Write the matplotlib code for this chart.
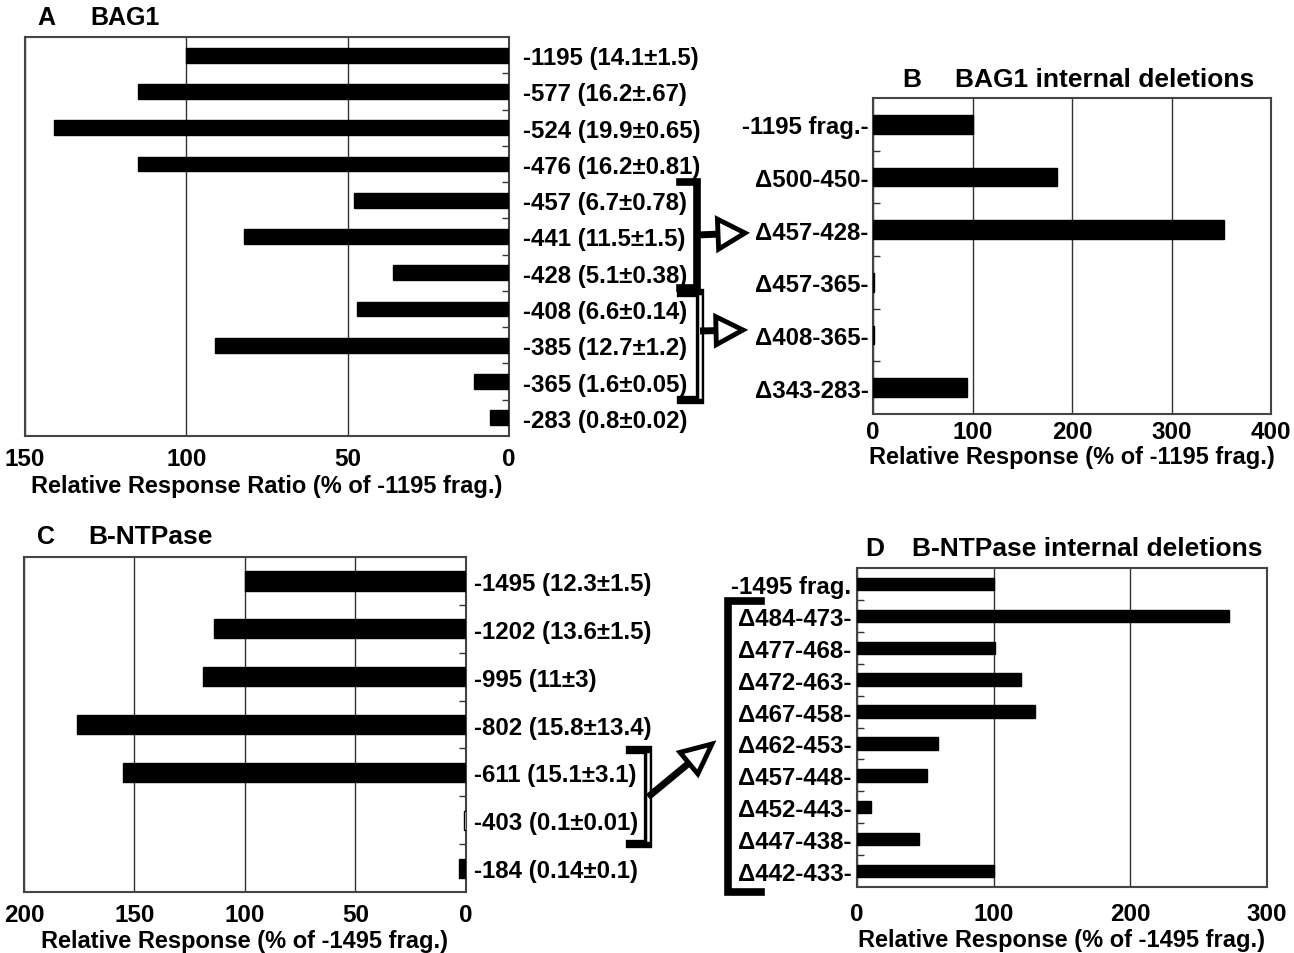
import matplotlib
matplotlib.use("Agg")
import matplotlib.pyplot as plt
from matplotlib.lines import Line2D
from matplotlib.patches import Polygon
import numpy as np
from math import hypot

plt.rcParams['font.family'] = ['Liberation Sans', 'DejaVu Sans']
plt.rcParams['font.weight'] = 'bold'
plt.rcParams['axes.labelweight'] = 'bold'

W, H = 1294, 954

bag1_labels = ["-1195 (14.1±1.5)", "-577 (16.2±.67)", "-524 (19.9±0.65)", "-476 (16.2±0.81)",
               "-457 (6.7±0.78)", "-441 (11.5±1.5)", "-428 (5.1±0.38)", "-408 (6.6±0.14)",
               "-385 (12.7±1.2)", "-365 (1.6±0.05)", "-283 (0.8±0.02)"]
bag1_values = [100, 115, 141, 115, 48, 82, 36, 47, 91, 11, 6]
bag1_ticks = [150, 100, 50, 0]

bag1_del_labels = ["-1195 frag.-", "Δ500-450-", "Δ457-428-", "Δ457-365-", "Δ408-365-", "Δ343-283-"]
bag1_del_values = [100, 185, 353, 1.5, 1.5, 94]
bag1_del_ticks = [0, 100, 200, 300, 400]

ntp_labels = ["-1495 (12.3±1.5)", "-1202 (13.6±1.5)", "-995 (11±3)", "-802 (15.8±13.4)",
              "-611 (15.1±3.1)", "-403 (0.1±0.01)", "-184 (0.14±0.1)"]
ntp_values = [100, 114, 119, 176, 155, 0.8, 3]
ntp_ticks = [200, 150, 100, 50, 0]

ntp_del_labels = ["-1495 frag.", "Δ484-473-", "Δ477-468-", "Δ472-463-", "Δ467-458-",
                  "Δ462-453-", "Δ457-448-", "Δ452-443-", "Δ447-438-", "Δ442-433-"]
ntp_del_values = [100, 272, 101, 120, 130, 59, 51, 10, 45, 100]
ntp_del_ticks = [0, 100, 200, 300]

fig = plt.figure(figsize=(W / 100, H / 100), dpi=100, facecolor='white')


def px_axes(left, top, right, bottom):
    return fig.add_axes([left / W, 1 - bottom / H, (right - left) / W, (bottom - top) / H])


def bar_panel(ax, labels, values, ticks, bar_h, side, xlabel, ypad, xpad, lpad):
    n = len(values)
    y = np.arange(n)
    ax.barh(y, values, height=bar_h, color='black', edgecolor='black', linewidth=1, zorder=3)
    ax.set_ylim(n - 0.5, -0.5)
    if side == 'right':
        ax.set_xlim(max(ticks), 0)
        ax.yaxis.tick_right()
    else:
        ax.set_xlim(0, max(ticks))
    ax.set_xticks(ticks)
    ax.set_xticklabels([str(t) for t in ticks])
    ax.set_yticks(y)
    ax.set_yticklabels(labels)
    ax.set_yticks(np.arange(n - 1) + 0.5, minor=True)
    ax.tick_params(axis='x', length=0, labelsize=17.5, pad=xpad)
    ax.tick_params(axis='y', which='major', length=0, labelsize=17.3, pad=ypad)
    ax.tick_params(axis='y', which='minor', direction='in', length=5, width=1, color='#333333')
    ax.grid(axis='x', color='#333333', linewidth=1, zorder=1)
    for s in ax.spines.values():
        s.set_color('#444444')
        s.set_linewidth(1.5)
    ax.set_xlabel(xlabel, fontsize=17, labelpad=lpad)


axA = px_axes(25, 38, 509, 437)
bar_panel(axA, bag1_labels, bag1_values, bag1_ticks, 0.41, 'right',
          "Relative Response Ratio (% of -1195 frag.)", 10, 8, 3)

axB = px_axes(873, 99, 1271, 415)
bar_panel(axB, bag1_del_labels, bag1_del_values, bag1_del_ticks, 0.36, 'left',
          "Relative Response (% of -1195 frag.)", 3, 4, 2)

axC = px_axes(24, 558, 466, 893)
bar_panel(axC, ntp_labels, ntp_values, ntp_ticks, 0.4, 'right',
          "Relative Response (% of -1495 frag.)", 6, 8, 2)
axC.patches[5].set_facecolor('white')

axD = px_axes(857, 569, 1267, 888)
bar_panel(axD, ntp_del_labels, ntp_del_values, ntp_del_ticks, 0.39, 'left',
          "Relative Response (% of -1495 frag.)", 4, 11, 2)

# panel titles
def ftext(x, y, s, size):
    fig.text(x / W, 1 - y / H, s, fontsize=size, ha='left', va='center')

ftext(37, 18, "A", 18)
ftext(90, 18, "BAG1", 18)
ftext(902, 80, "B", 19)
ftext(955, 80, "BAG1 internal deletions", 19)
ftext(37, 537, "C", 18)
ftext(88, 537, "B-NTPase", 19)
ftext(865, 549, "D", 19)
ftext(912, 549, "B-NTPase internal deletions", 19)


def fig_line(xs, ys, **kw):
    fig.add_artist(Line2D([x / W for x in xs], [1 - y / H for y in ys],
                          transform=fig.transFigure, **kw))


def open_arrow(x0, y0, x1, y1, head_len, head_w):
    L = hypot(x1 - x0, y1 - y0)
    ux, uy = (x1 - x0) / L, (y1 - y0) / L
    px, py = -uy, ux
    bx, by = x1 - ux * head_len, y1 - uy * head_len
    fig_line([x0, bx], [y0, by], color='black', linewidth=5, solid_capstyle='butt')
    pts = [(bx + px * head_w, by + py * head_w), (x1, y1), (bx - px * head_w, by - py * head_w)]
    fig.add_artist(Polygon([(x / W, 1 - y / H) for x, y in pts], closed=True,
                           facecolor='white', edgecolor='black', linewidth=3.5,
                           joinstyle='miter', transform=fig.transFigure))


# brackets and arrows linking panels
fig_line([680, 697, 697, 680], [183, 183, 289, 289], color='black', linewidth=5.5,
         solid_joinstyle='miter')
fig_line([681, 700, 700, 681], [294, 294, 401, 401], color='black', linewidth=6,
         solid_joinstyle='miter')
fig_line([700, 700], [297, 398], color='white', linewidth=1.8)
open_arrow(697, 236, 745, 234, 27, 15)
open_arrow(700, 332, 743, 331, 27, 14)

fig_line([630, 648, 648, 630], [751, 751, 845, 845], color='black', linewidth=6,
         solid_joinstyle='miter')
fig_line([648, 648], [755, 841], color='white', linewidth=1.8)
open_arrow(648, 798, 712, 745, 30, 14)

fig_line([761, 728, 728, 761], [602, 602, 893, 893], color='black', linewidth=5.5,
         solid_joinstyle='miter')

fig.savefig('out.png', dpi=100)
